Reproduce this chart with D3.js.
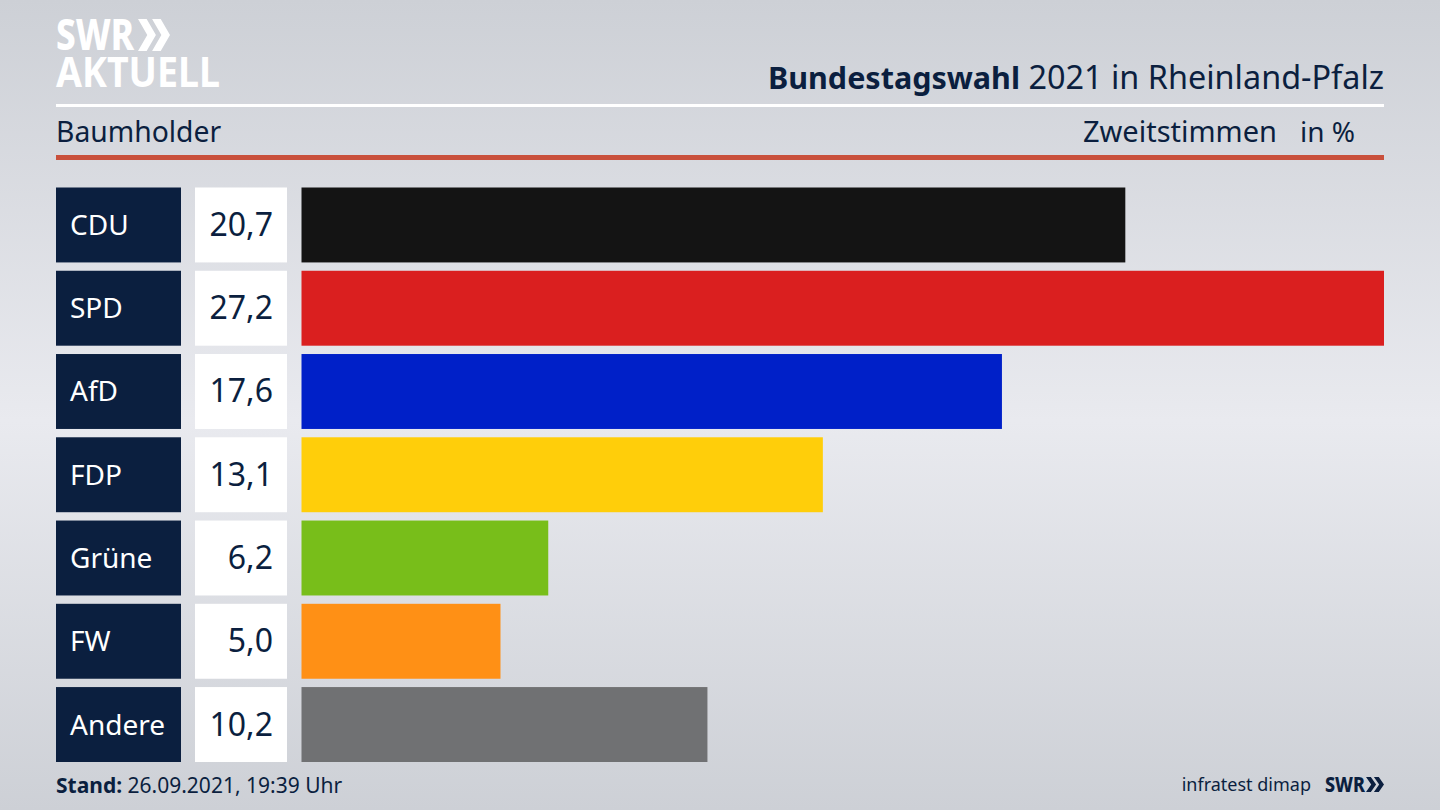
<!DOCTYPE html>
<html lang="de">
<head>
<meta charset="UTF-8">
<title>Bundestagswahl 2021 in Rheinland-Pfalz - Baumholder</title>
<script src="https://d3js.org/d3.v7.min.js"></script>
<style>
  html, body { margin: 0; padding: 0; background: #d5d8de; }
  svg { display: block; font-family: "Noto Sans", "Open Sans", sans-serif; }
</style>
</head>
<body>
<svg id="viz" width="1440" height="810"></svg>
<script>
const parties = ["CDU", "SPD", "AfD", "FDP", "Grüne", "FW", "Andere"];
const shares = [20.7, 27.2, 17.6, 13.1, 6.2, 5.0, 10.2];
const barColors = ["#141414", "#da1f1f", "#0020c8", "#ffce0a", "#78be1a", "#ff9015", "#707173"];
const navy = "#0b1f3f";

const svg = d3.select("#viz");
const defs = svg.append("defs");

// background: grey, lighter band through the middle
const bg = defs.append("linearGradient").attr("id", "bg")
  .attr("x1", 0).attr("y1", 0).attr("x2", 0).attr("y2", 1);
bg.append("stop").attr("offset", "0%").attr("stop-color", "#cdd0d6");
bg.append("stop").attr("offset", "52%").attr("stop-color", "#e9eaef");
bg.append("stop").attr("offset", "100%").attr("stop-color", "#cdd0d6");
svg.append("rect").attr("width", 1440).attr("height", 810).attr("fill", "url(#bg)");

// scales
const x = d3.scaleLinear().domain([0, 27.2]).range([301.5, 1384]);
const y = d3.scaleBand().domain(parties).range([187.5, 762]).paddingInner(0.1).paddingOuter(0);

// rows
const rows = svg.selectAll("g.row").data(parties).enter().append("g").attr("class", "row");
rows.append("rect").attr("x", 56).attr("width", 125)
  .attr("y", d => y(d)).attr("height", y.bandwidth()).attr("fill", navy);
rows.append("text").attr("x", 70).attr("y", d => y(d) + y.bandwidth() / 2 + 10)
  .attr("font-size", 28).attr("fill", "#fff").text(d => d);
rows.append("rect").attr("x", 195).attr("width", 92)
  .attr("y", d => y(d)).attr("height", y.bandwidth()).attr("fill", "#fff");
rows.append("text").attr("x", 273).attr("y", d => y(d) + y.bandwidth() / 2 + 11)
  .attr("text-anchor", "end").attr("font-size", 32).attr("fill", navy)
  .text((d, i) => shares[i].toFixed(1).replace(".", ","));
rows.append("rect").attr("x", x(0))
  .attr("y", d => y(d)).attr("height", y.bandwidth())
  .attr("width", (d, i) => x(shares[i]) - x(0))
  .attr("fill", (d, i) => barColors[i]);

// rules
svg.append("rect").attr("x", 56).attr("y", 104).attr("width", 1328).attr("height", 3).attr("fill", "#fff");
svg.append("rect").attr("x", 56).attr("y", 155).attr("width", 1328).attr("height", 5).attr("fill", "#c9503c");

// header
const title = svg.append("text").attr("x", 1384).attr("y", 89)
  .attr("text-anchor", "end").attr("font-size", 32.4).attr("fill", navy);
title.append("tspan").attr("font-weight", 700).attr("font-size", 30.5).text("Bundestagswahl");
title.append("tspan").text(" 2021 in Rheinland-Pfalz");
svg.append("text").attr("x", 56).attr("y", 142).attr("font-size", 28.3).attr("fill", navy).text("Baumholder");
svg.append("text").attr("x", 1277).attr("y", 142).attr("text-anchor", "end").attr("font-size", 29).attr("fill", navy).text("Zweitstimmen");
svg.append("text").attr("x", 1355).attr("y", 142).attr("text-anchor", "end").attr("font-size", 28).attr("fill", navy).text("in %");

// double chevron of the SWR mark
function chevrons(g, x0, y0, w, h) {
  const cw = w * 0.56, t = w * 0.27;
  [0, w - cw].forEach(dx => {
    g.append("polygon").attr("points", [
      [x0 + dx, y0], [x0 + dx + t, y0], [x0 + dx + cw, y0 + h / 2],
      [x0 + dx + t, y0 + h], [x0 + dx, y0 + h], [x0 + dx + cw - t, y0 + h / 2]
    ].join(" "));
  });
}

// logo
const logo = svg.append("g").attr("fill", "#fff").attr("font-weight", 800);
logo.append("text").attr("x", 56).attr("y", 50).attr("font-size", 42)
  .attr("textLength", 78).attr("lengthAdjust", "spacingAndGlyphs").text("SWR");
logo.append("text").attr("x", 56).attr("y", 87).attr("font-size", 42).attr("font-weight", 700)
  .attr("textLength", 164).attr("lengthAdjust", "spacingAndGlyphs").text("AKTUELL");
chevrons(logo, 138, 19, 32, 32);

// footer
const stand = svg.append("text").attr("x", 56).attr("y", 793).attr("font-size", 21).attr("fill", navy);
stand.append("tspan").attr("font-weight", 700).text("Stand:");
stand.append("tspan").text(" 26.09.2021, 19:39 Uhr");
svg.append("text").attr("x", 1311).attr("y", 791).attr("text-anchor", "end").attr("font-size", 18).attr("fill", navy).text("infratest dimap");
const mark = svg.append("g").attr("fill", navy);
mark.append("text").attr("x", 1325).attr("y", 792).attr("font-size", 21).attr("font-weight", 800)
  .attr("textLength", 40).attr("lengthAdjust", "spacingAndGlyphs").text("SWR");
chevrons(mark, 1366, 777, 18, 15);
</script>
</body>
</html>
